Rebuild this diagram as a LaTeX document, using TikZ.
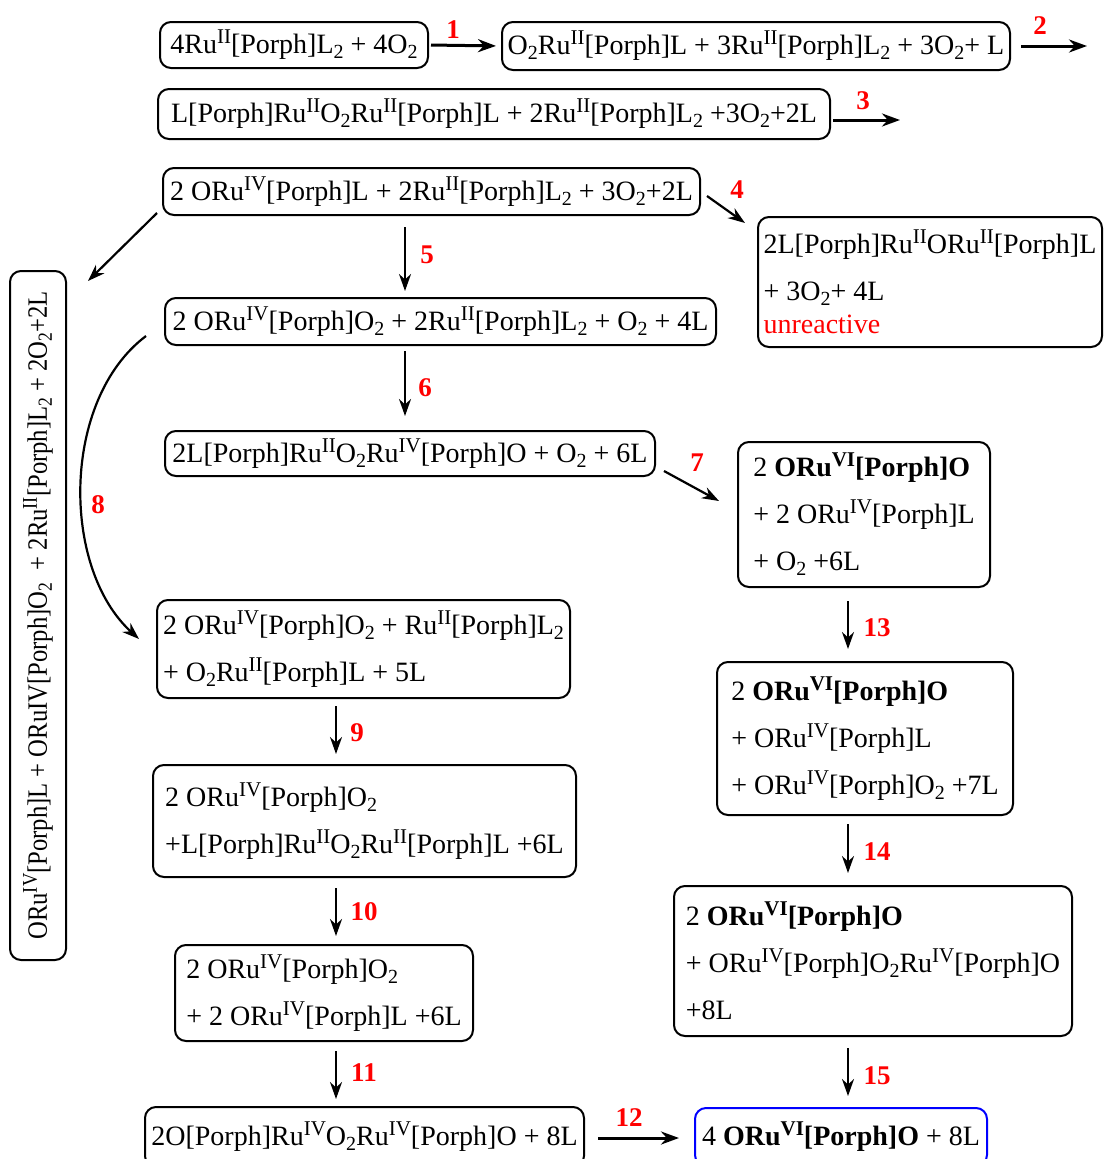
\documentclass[tikz,border=0pt]{standalone}
\usepackage{fontspec}
\setmainfont{Liberation Serif}
\usetikzlibrary{arrows.meta}
\newcommand\Sup[1]{\raisebox{10pt}{\fontsize{21}{21}\selectfont #1}}
\newcommand\Sub[1]{\raisebox{-5pt}{\fontsize{20}{20}\selectfont #1}}
\begin{document}
\begin{tikzpicture}[x=1pt,y=-1pt,
  box/.style={draw, line width=2pt, rounded corners=11pt, inner sep=0pt, font=\fontsize{28}{47}\selectfont},
  mbox/.style={box, align=left},
  arr/.style={line width=2.2pt, -{Stealth[length=17pt,width=12pt]}},
  tarr/.style={line width=3pt, -{Stealth[length=18pt,width=13pt]}},
  num/.style={text=red, font=\fontsize{27}{30}\selectfont\bfseries}]
\useasboundingbox (0,0) rectangle (1104,1159);
\clip (0,0) rectangle (1104,1159);

% top rows
\node[box, minimum width=268pt, minimum height=46pt] (A) at (294,45) {4Ru\Sup{II}[Porph]L\Sub{2} + 4O\Sub{2}};
\node[box, minimum width=508pt, minimum height=48pt] (B) at (756,46) {O\Sub{2}Ru\Sup{II}[Porph]L + 3Ru\Sup{II}[Porph]L\Sub{2} + 3O\Sub{2}+ L};
\node[box, minimum width=672pt, minimum height=50pt] (C) at (494,114) {L[Porph]Ru\Sup{II}O\Sub{2}Ru\Sup{II}[Porph]L + 2Ru\Sup{II}[Porph]L\Sub{2} +3O\Sub{2}+2L};
\node[box, minimum width=537pt, minimum height=47pt] (D) at (431.5,191.5) {2 ORu\Sup{IV}[Porph]L + 2Ru\Sup{II}[Porph]L\Sub{2} + 3O\Sub{2}+2L};
\node[mbox, minimum width=344pt, minimum height=130pt] (E) at (930,282) {2L[Porph]Ru\Sup{II}ORu\Sup{II}[Porph]L\\+ 3O\Sub{2}+ 4L\\[-14pt]\textcolor{red}{unreactive}};
\node[box, minimum width=551pt, minimum height=47pt] (F) at (440.5,321.5) {2 ORu\Sup{IV}[Porph]O\Sub{2} + 2Ru\Sup{II}[Porph]L\Sub{2} + O\Sub{2} + 4L};
\node[box, minimum width=490pt, minimum height=45pt] (G) at (410,453.5) {2L[Porph]Ru\Sup{II}O\Sub{2}Ru\Sup{IV}[Porph]O + O\Sub{2} + 6L};

% right column
\node[mbox, minimum width=252pt, minimum height=145pt] (H) at (864,514.5) {2 \textbf{ORu\Sup{VI}[Porph]O}\\+ 2 ORu\Sup{IV}[Porph]L\\+ O\Sub{2} +6L};
\node[mbox, minimum width=296pt, minimum height=153pt] (I) at (865,738.5) {2 \textbf{ORu\Sup{VI}[Porph]O}\\+ ORu\Sup{IV}[Porph]L\\+ ORu\Sup{IV}[Porph]O\Sub{2} +7L};
\node[mbox, minimum width=398pt, minimum height=150pt] (J) at (873,961) {2 \textbf{ORu\Sup{VI}[Porph]O}\\+ ORu\Sup{IV}[Porph]O\Sub{2}Ru\Sup{IV}[Porph]O\\+8L};
\node[box, draw=blue, minimum width=292pt, minimum height=58pt] (K) at (841,1137) {4 \textbf{ORu\Sup{VI}[Porph]O} + 8L};

% left column
\node[mbox, minimum width=413pt, minimum height=98pt] (M) at (363.5,649) {2 ORu\Sup{IV}[Porph]O\Sub{2} + Ru\Sup{II}[Porph]L\Sub{2}\\+ O\Sub{2}Ru\Sup{II}[Porph]L + 5L};
\node[mbox, minimum width=423pt, minimum height=112pt] (N) at (364.5,821) {2 ORu\Sup{IV}[Porph]O\Sub{2}\\+L[Porph]Ru\Sup{II}O\Sub{2}Ru\Sup{II}[Porph]L +6L};
\node[mbox, minimum width=298pt, minimum height=96pt] (O) at (324,993) {2 ORu\Sup{IV}[Porph]O\Sub{2}\\+ 2 ORu\Sup{IV}[Porph]L +6L};
\node[box, minimum width=439pt, minimum height=60pt] (L) at (364.5,1137) {2O[Porph]Ru\Sup{IV}O\Sub{2}Ru\Sup{IV}[Porph]O + 8L};
\node[box, rotate=90, minimum width=689pt, minimum height=56pt] (P) at (38,615.5) {\scalebox{0.88}[1]{ORu\Sup{IV}[Porph]L + ORuIV[Porph]O\Sub{2}\ \ + 2Ru\Sup{II}[Porph]L\Sub{2} + 2O\Sub{2}+2L}};

% free ends
\coordinate (e2) at (1087,46);
\coordinate (e3) at (900,120);

% connectors
\draw[tarr, shorten <=2pt, shorten >=5pt] (A.east) -- (B.west);
\draw[tarr, shorten <=10pt] (B.east) -- (e2);
\draw[tarr] (C.east |- e3) ++(2,0) -- (e3);
\draw[arr] ([xshift=6pt,yshift=-4.5pt]D.east) -- ([xshift=-12pt,yshift=-7pt]E.north west);
\draw[arr] ([xshift=-5pt,yshift=3pt]D.south west) -- ([xshift=21pt,yshift=-11pt]P.south east);
\draw[arr, shorten <=11pt, shorten >=6pt] ([xshift=-26.5pt]D.south) -- ([xshift=-35.5pt]F.north);
\draw[arr, shorten <=5pt, shorten >=14pt] ([xshift=-35.5pt]F.south) -- ([xshift=-5pt]G.north);
\draw[arr] ([xshift=8pt,yshift=6pt]G.south east) -- ([xshift=-18pt,yshift=13.5pt]H.west);
\draw[arr] ([xshift=-18pt,yshift=10pt]F.south west) .. controls (61,400) and (61,568) .. ([xshift=-17pt,yshift=-40pt]M.north west);
\draw[arr, shorten <=7pt, shorten >=10pt] ([xshift=-27.5pt]M.south) -- ([xshift=-28.5pt]N.north);
\draw[arr, shorten <=10pt, shorten >=8pt] ([xshift=-28.5pt]N.south) -- ([xshift=12pt]O.north);
\draw[arr, shorten <=9pt, shorten >=7pt] ([xshift=12pt]O.south) -- ([xshift=-28.5pt]L.north);
\draw[tarr, shorten <=13pt, shorten >=15pt] ([yshift=-1pt]L.east) -- ([yshift=-1pt]K.west);
\draw[arr, shorten <=13pt, shorten >=12pt] ([xshift=-16pt]H.south) -- ([xshift=-17pt]I.north);
\draw[arr, shorten <=8pt, shorten >=12pt] ([xshift=-17pt]I.south) -- ([xshift=-25pt]J.north);
\draw[arr, shorten <=11pt, shorten >=11pt] ([xshift=-25pt]J.south) -- ([xshift=7pt]K.north);

% step numbers
\node[num] (n1) at (453,30) {1};
\node[num] (n2) at (1040,26) {2};
\node[num] (n3) at (863,101) {3};
\node[num] (n4) at (737,190) {4};
\node[num] (n5) at (427,255) {5};
\node[num] (n6) at (425,388) {6};
\node[num] (n7) at (697,463) {7};
\node[num] (n8) at (98,505) {8};
\node[num] (n9) at (357,733) {9};
\node[num] (n10) at (364,912) {10};
\node[num] (n11) at (364,1073) {11};
\node[num] (n12) at (629,1118) {12};
\node[num] (n13) at (877,628) {13};
\node[num] (n14) at (877,852) {14};
\node[num] (n15) at (877,1076) {15};
\end{tikzpicture}
\end{document}
